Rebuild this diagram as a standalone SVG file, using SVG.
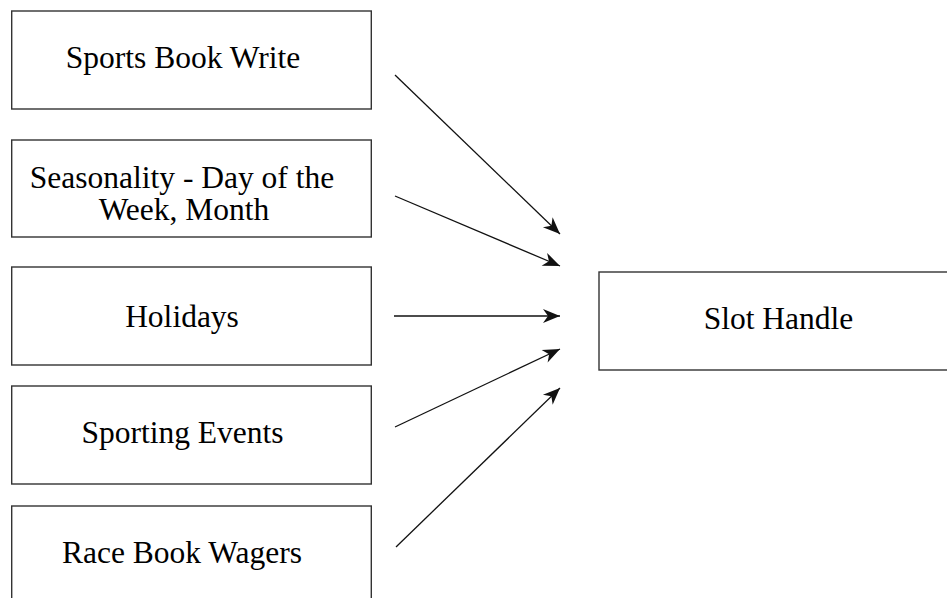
<svg xmlns="http://www.w3.org/2000/svg" width="947" height="598" viewBox="0 0 947 598">
<style>
.box{fill:#fff;stroke:#333;stroke-width:1.4}
.lbl{font-family:"Liberation Serif","Times New Roman",serif;font-size:31.5px;fill:#000;text-anchor:middle}
.conn line{stroke:#111;stroke-width:1.3;fill:none;marker-end:url(#ah)}
</style>
<defs>
<marker id="ah" markerUnits="userSpaceOnUse" markerWidth="20" markerHeight="18" viewBox="-18 -9 19 18" refX="0" refY="0" orient="auto">
<path d="M0,0 L-17,-7 L-12,0 L-17,7 Z" fill="#111"/>
</marker>
</defs>
<rect width="947" height="598" fill="#fff"/>
<g id="n1"><rect class="box" x="11.7" y="11" width="359.6" height="98"/><text class="lbl" x="183" y="68">Sports Book Write</text></g>
<g id="n2"><rect class="box" x="11.7" y="140" width="359.6" height="97"/><text class="lbl" x="182" y="188">Seasonality - Day of the</text><text class="lbl" x="184" y="220">Week, Month</text></g>
<g id="n3"><rect class="box" x="11.7" y="267" width="359.6" height="98"/><text class="lbl" x="182" y="327">Holidays</text></g>
<g id="n4"><rect class="box" x="11.7" y="386" width="359.6" height="98"/><text class="lbl" x="182.5" y="443">Sporting Events</text></g>
<g id="n5"><rect class="box" x="11.7" y="506" width="359.6" height="110"/><text class="lbl" x="182" y="563">Race Book Wagers</text></g>
<g id="n6"><rect class="box" x="599" y="272" width="360" height="98"/><text class="lbl" x="778.5" y="329">Slot Handle</text></g>
<g id="connectors" class="conn">
<line x1="395" y1="75" x2="560" y2="234"/>
<line x1="395" y1="196" x2="560" y2="266"/>
<line x1="394" y1="316" x2="560" y2="316"/>
<line x1="395" y1="427" x2="560" y2="349"/>
<line x1="396" y1="547" x2="560" y2="388"/>
</g>
</svg>
